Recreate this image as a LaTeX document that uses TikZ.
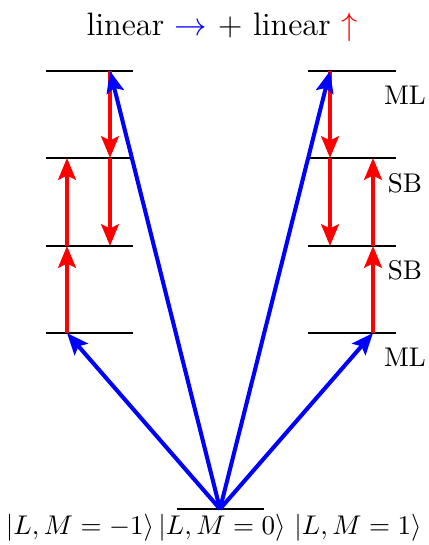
\documentclass[tikz,border=0pt]{standalone}
\usepackage{amsmath,amssymb}
\usetikzlibrary{arrows.meta}

\begin{document}
\begin{tikzpicture}[x=0.37pt, y=0.37pt,
	level/.style={line width=0.9pt},
	redarr/.style={red, line width=1.5pt, -{Stealth[length=8pt,width=6.5pt,inset=1.5pt]}},
	bluearr/.style={blue, line width=1.5pt, -{Stealth[length=8pt,width=6.5pt,inset=1.5pt]}}]
	\useasboundingbox (0,0) rectangle (428,545);
	\node[font=\large] (title) at (222,518) {linear {\color{blue}$\rightarrow$} + linear {\color{red}$\uparrow$}};
	% levels
	\foreach \n/\y in {0/212,1/299,2/387,3/474} {
		\draw[level] (46,\y) -- (133,\y);
		\draw[level] (308,\y) -- (396,\y);
		\coordinate (lu\n) at (67,\y); \coordinate (ld\n) at (110,\y);
		\coordinate (rd\n) at (330,\y); \coordinate (ru\n) at (373,\y);
	}
	\draw[level] (177,36) -- (264,36);
	\coordinate (g) at (220,36);
	% raman steps
	\draw[redarr] (lu0) -- (lu1); \draw[redarr] (lu1) -- (lu2);
	\draw[redarr] (ld3) -- (ld2); \draw[redarr] (ld2) -- (ld1);
	\draw[redarr] (rd3) -- (rd2); \draw[redarr] (rd2) -- (rd1);
	\draw[redarr] (ru0) -- (ru1); \draw[redarr] (ru1) -- (ru2);
	% pump
	\foreach \t in {lu0,ld3,rd3,ru0} {\draw[bluearr] (g) -- (\t);}
	\node (ml3) at (405,450) {ML};
	\node (sb2) at (405,362) {SB};
	\node (sb1) at (405,275) {SB};
	\node (ml0) at (405,188) {ML};
	\node (km) at (80,17) {$|L,M=-1\rangle$};
	\node (kz) at (222,17) {$|L,M=0\rangle$};
	\node (kp) at (358,17) {$|L,M=1\rangle$};
\end{tikzpicture}
\end{document}
